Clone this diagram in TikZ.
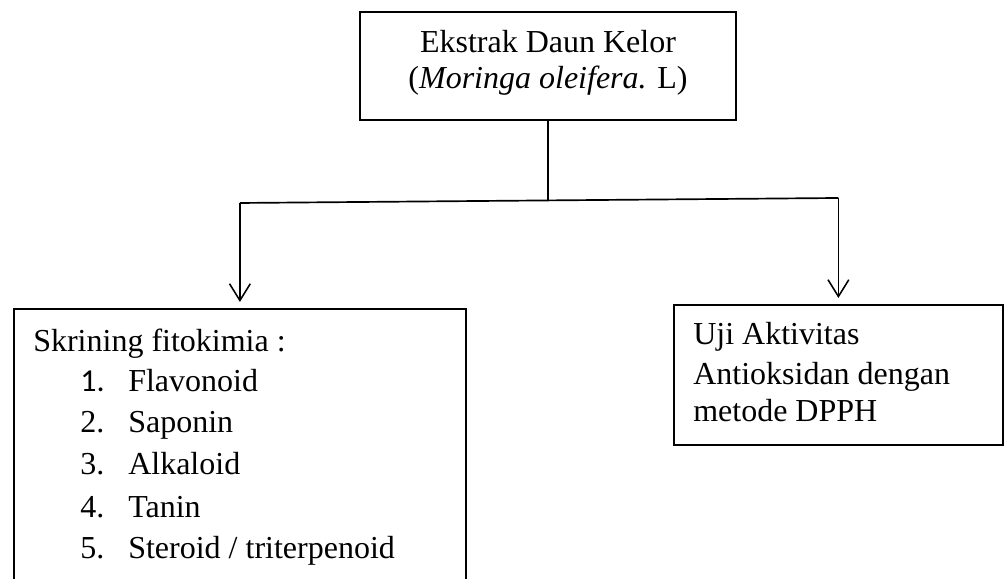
\documentclass[tikz,border=0pt]{standalone}
\usepackage{fontspec}
\setmainfont{Liberation Serif}
\newfontfamily\numfont{Carlito}
\usetikzlibrary{arrows.meta}

\begin{document}
\begin{tikzpicture}[
  box/.style={draw, line width=1.3pt, inner sep=0pt},
  txt/.style={inner sep=0pt, anchor=base west, font=\fontsize{22.76}{27}\selectfont},
  link/.style={line width=1.2pt},
  arrowlink/.style={line width=1.1pt, shorten >=0.15cm, -{Straight Barb[length=0.42cm,width=0.52cm,line width=1.1pt]}}
]
\useasboundingbox (0,0) rectangle (25.1,14.475);
\clip (0,0) rectangle (25.1,14.475);
% Draw the top box
\node[box, minimum width=9.4cm, minimum height=2.7cm] (ekstrak) at (13.7,12.825) {};
\node[txt, anchor=base] (ekstrak1) at (13.7,13.15) {Ekstrak Daun Kelor};
\node[txt, anchor=base] (ekstrak2) at (13.7,12.25) {(\textit{Moringa oleifera.} L)};
% Draw the two lower boxes
\node[box, anchor=north west, minimum width=11.3cm, minimum height=8cm] (skrining) at (0.325,6.775) {};
\node[box, anchor=north west, minimum width=8.225cm, minimum height=3.5cm] (uji) at (16.825,6.875) {};
% Left box text
\node[txt] (skrining0) at (0.825,5.675) {Skrining fitokimia :};
\foreach \num/\item/\y [count=\i] in {{\numfont 1.}/Flavonoid/4.675, 2./Saponin/3.65, 3./Alkaloid/2.6, 4./Tanin/1.525, 5./{Steroid / triterpenoid}/0.5}
{
  \node[txt] (num\i) at (2.0,\y) {\num};
  \node[txt] (item\i) at (3.2,\y) {\item};
}
% Right box text
\node[txt] (uji1) at (17.325,5.85) {Uji Aktivitas};
\node[txt] (uji2) at (17.325,4.85) {Antioksidan dengan};
\node[txt] (uji3) at (17.325,3.925) {metode DPPH};
% Connectors
\coordinate (split) at (13.7,9.475);
\coordinate (splitL) at ([yshift=-0.075cm]skrining.north |- split);
\coordinate (splitR) at ([yshift=0.05cm]uji.north |- split);
\draw[link] (ekstrak.south) -- (split);
\draw[link] (splitL) -- (splitR);
\draw[arrowlink] (splitL) -- (skrining.north);
\draw[arrowlink] (splitR) -- (uji.north);
\end{tikzpicture}
\end{document}
